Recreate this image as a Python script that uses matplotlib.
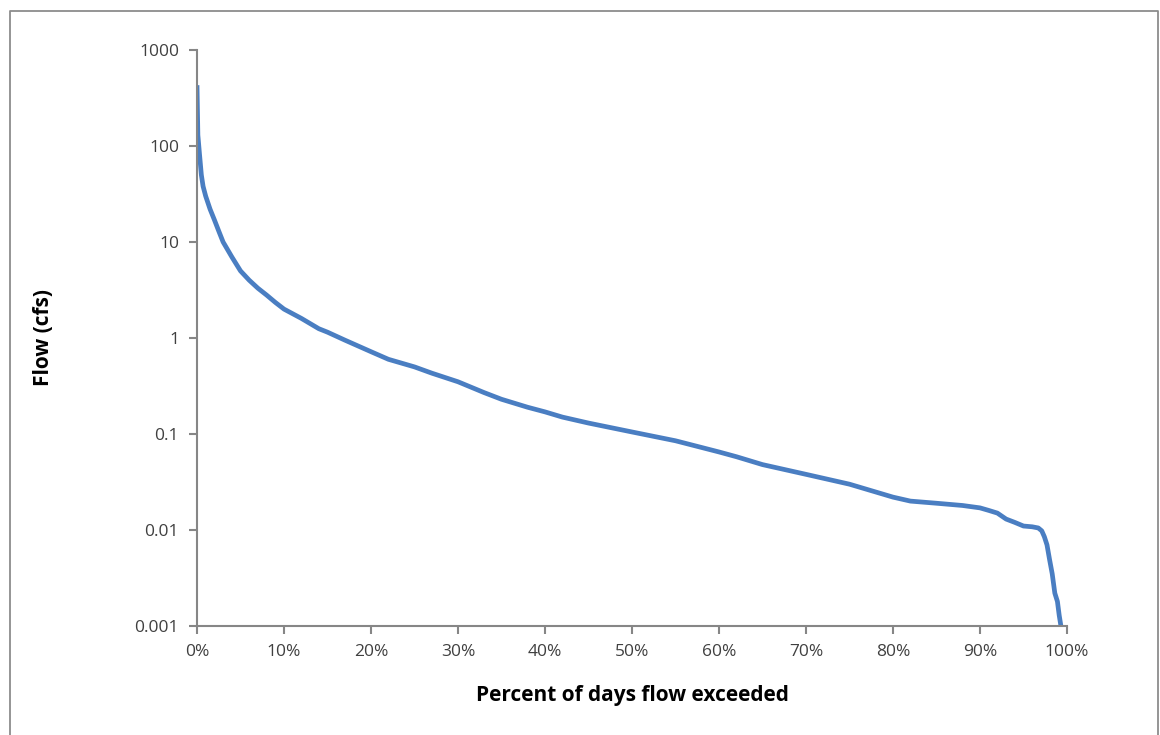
import matplotlib
matplotlib.use('Agg')

import matplotlib.pyplot as plt
from matplotlib.lines import Line2D
from matplotlib.ticker import FixedLocator, NullLocator

# Flow duration curve values
pct_exceeded = [0.0, 0.1, 0.3, 0.5, 0.7, 1.0, 1.5, 2.0, 2.5, 3.0, 4.0, 5.0, 6.0,
                7.0, 8.0, 9.0, 10.0, 12.0, 14.0, 15.0, 17.0, 20.0, 22.0, 25.0,
                27.0, 30.0, 33.0, 35.0, 38.0, 40.0, 42.0, 45.0, 50.0, 55.0,
                60.0, 62.0, 65.0, 70.0, 75.0, 80.0, 82.0, 85.0, 88.0, 90.0,
                91.0, 92.0, 93.0, 94.0, 95.0, 96.0, 96.7, 97.1, 97.4, 97.7,
                98.0, 98.3, 98.6, 98.9, 99.1, 99.3]
flow_cfs = [430, 130, 80, 50, 38, 30, 22, 17, 13, 10, 7.0, 5.0, 4.0,
            3.3, 2.8, 2.35, 2.0, 1.6, 1.25, 1.15, 0.95, 0.72, 0.6, 0.5,
            0.43, 0.35, 0.27, 0.23, 0.19, 0.17, 0.15, 0.13, 0.105, 0.085,
            0.065, 0.058, 0.048, 0.038, 0.030, 0.022, 0.020, 0.019, 0.018, 0.017,
            0.016, 0.015, 0.013, 0.012, 0.011, 0.0108, 0.0105, 0.0098, 0.0085, 0.007,
            0.0049, 0.0035, 0.0022, 0.0018, 0.0013, 0.001]

y_ticks = [0.001, 0.01, 0.1, 1, 10, 100, 1000]
y_labels = ['0.001', '0.01', '0.1', '1', '10', '100', '1000']
x_ticks = [0, 10, 20, 30, 40, 50, 60, 70, 80, 90, 100]
x_labels = [f'{t}%' for t in x_ticks]

plt.rcParams['font.family'] = ['Open Sans', 'DejaVu Sans']
axis_gray = '#868686'
text_color = '#404040'

fig = plt.figure(figsize=(11.6, 7.35), dpi=100)
ax = fig.add_axes([197 / 1160, 1 - 626 / 735, 870 / 1160, 576 / 735])

ax.plot(pct_exceeded, flow_cfs, color='#4A7EC2', linewidth=3.4,
        solid_joinstyle='round', solid_capstyle='butt')

ax.set_yscale('log')
ax.set_ylim(0.001, 1000)
ax.set_xlim(0, 100)
ax.yaxis.set_major_locator(FixedLocator(y_ticks))
ax.yaxis.set_minor_locator(NullLocator())
ax.set_yticklabels(y_labels)
ax.set_xticks(x_ticks)
ax.set_xticklabels(x_labels)

for side in ['top', 'right']:
    ax.spines[side].set_visible(False)
for side in ['left', 'bottom']:
    ax.spines[side].set_color(axis_gray)
    ax.spines[side].set_linewidth(1.5)

ax.tick_params(axis='both', direction='out', length=6, width=1.5,
               color=axis_gray, labelsize=12.5, labelcolor=text_color)
ax.tick_params(axis='y', pad=7)
ax.tick_params(axis='x', pad=7)

ax.set_xlabel('Percent of days flow exceeded', fontsize=15, fontweight='bold',
              color='black', labelpad=18)
ax.set_ylabel('Flow (cfs)', fontsize=15, fontweight='bold', color='black')
ax.yaxis.set_label_coords(-0.164, 0.5)

# chart area border
border_x = [10 / 1160, 10 / 1160, 1158 / 1160, 1158 / 1160]
border_y = [0.0, 1 - 11 / 735, 1 - 11 / 735, 0.0]
fig.add_artist(Line2D(border_x, border_y, transform=fig.transFigure,
                      color='#8C8C8C', linewidth=1.3))

plt.savefig('out.png', dpi=100)
